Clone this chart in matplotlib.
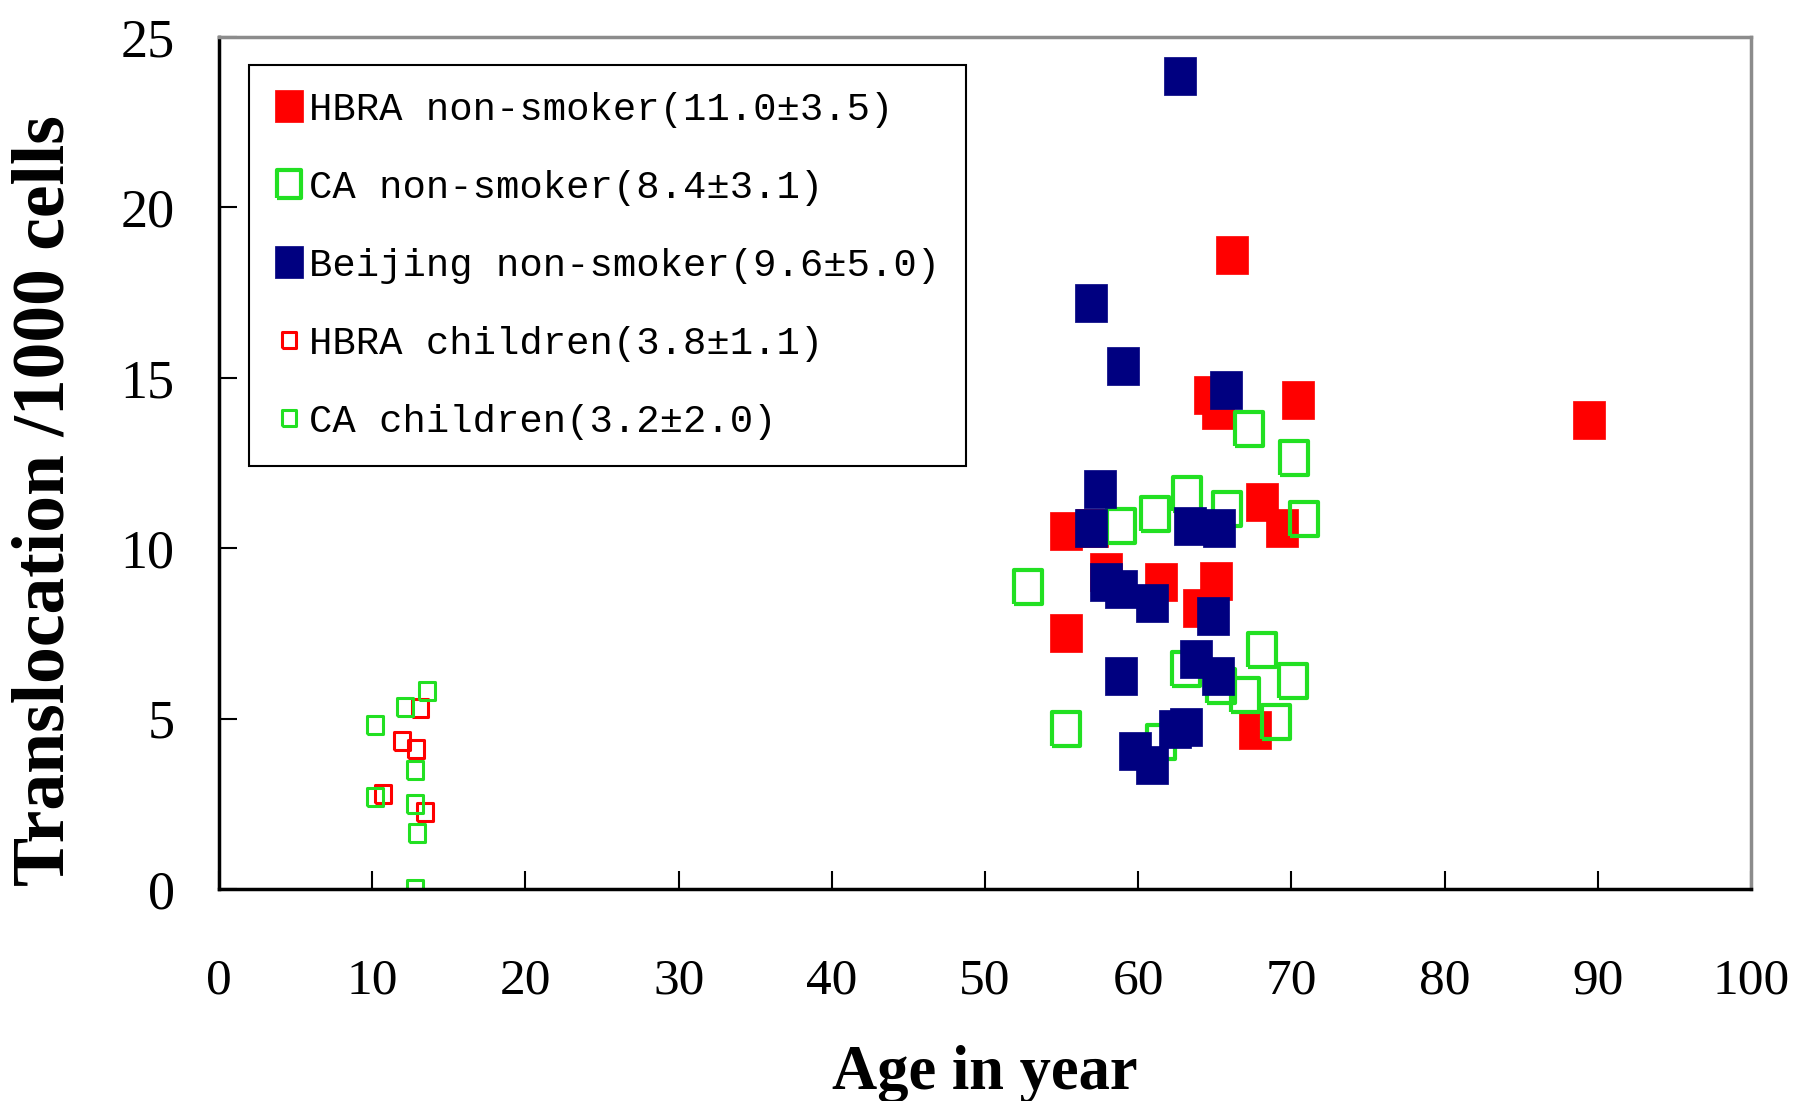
import numpy as np
import matplotlib
matplotlib.use('Agg')
import matplotlib.pyplot as plt

# HBRA non-smoker (filled red)
hbra_age = [66.1, 64.7, 65.2, 70.4, 89.4, 68.1, 69.4, 55.3, 57.0, 57.9, 61.5, 65.1, 64.0, 55.3, 67.6]
hbra_val = [18.6, 14.5, 14.05, 14.35, 13.75, 11.35, 10.6, 10.5, 10.6, 9.3, 9.0, 9.05, 8.25, 7.5, 4.65]

# CA non-smoker (open green)
ca_age = [67.2, 70.2, 63.2, 65.8, 61.1, 70.8, 58.9, 52.8, 68.1, 63.1, 70.1, 65.4, 67.0, 69.0, 55.3, 61.5]
ca_val = [13.5, 12.65, 11.6, 11.15, 11.0, 10.85, 10.65, 8.85, 7.0, 6.45, 6.1, 5.95, 5.7, 4.9, 4.7, 4.3]

# Beijing non-smoker (filled navy)
bj_age = [62.7, 56.9, 59.0, 65.7, 57.5, 56.9, 63.4, 65.3, 57.9, 58.9, 60.9, 64.9, 63.8, 58.9, 65.2,
          62.4, 63.1, 59.8, 60.9]
bj_val = [23.85, 17.2, 15.35, 14.65, 11.75, 10.6, 10.65, 10.6, 9.0, 8.8, 8.4, 8.0, 6.75, 6.25, 6.25,
          4.7, 4.75, 4.05, 3.65]

# children
hbra_ch_age = [13.1, 11.93, 12.86, 10.73, 13.45]
hbra_ch_val = [5.3, 4.35, 4.1, 2.8, 2.25]
ca_ch_age = [13.56, 12.14, 10.18, 12.8, 10.18, 12.8, 12.9, 12.8]
ca_ch_val = [5.8, 5.35, 4.8, 3.5, 2.7, 2.5, 1.65, 0.0]

labels = ['HBRA non-smoker(11.0±3.5)', 'CA non-smoker(8.4±3.1)', 'Beijing non-smoker(9.6±5.0)',
          'HBRA children(3.8±1.1)', 'CA children(3.2±2.0)']

RED = '#ff0000'
GREEN = '#22e022'
NAVY = '#000080'

# slightly tall rectangle marker, like the original
w = 0.865
rect = [(-w / 2, -0.5), (w / 2, -0.5), (w / 2, 0.5), (-w / 2, 0.5), (-w / 2, -0.5)]

fig = plt.figure(figsize=(17.97, 11.01), dpi=100)
ax = fig.add_axes([0.1219, 0.1926, 0.8525, 0.7738])

ax.plot(hbra_age, hbra_val, linestyle='none', marker=rect, markersize=27,
        markerfacecolor=RED, markeredgecolor=RED, markeredgewidth=0.5, label=labels[0])
ax.plot(ca_age, ca_val, linestyle='none', marker=rect, markersize=24,
        markerfacecolor='none', markeredgecolor=GREEN, markeredgewidth=3, label=labels[1])
ax.plot(bj_age, bj_val, linestyle='none', marker=rect, markersize=27,
        markerfacecolor=NAVY, markeredgecolor=NAVY, markeredgewidth=0.5, label=labels[2])
ax.plot(hbra_ch_age, hbra_ch_val, linestyle='none', marker=rect, markersize=13,
        markerfacecolor='none', markeredgecolor=RED, markeredgewidth=2.2, label=labels[3])
ax.plot(ca_ch_age, ca_ch_val, linestyle='none', marker=rect, markersize=13,
        markerfacecolor='none', markeredgecolor=GREEN, markeredgewidth=2.2, label=labels[4])

ax.set_xlim(0, 100)
ax.set_ylim(0, 25)
ax.set_xticks(np.arange(0, 101, 10))
ax.set_yticks(np.arange(0, 26, 5))
ax.tick_params(axis='both', direction='in', length=13, width=1.5, top=False, right=False)
ax.tick_params(axis='x', pad=50, labelsize=37)
ax.tick_params(axis='y', pad=32, labelsize=39)
for lab in ax.get_xticklabels() + ax.get_yticklabels():
    lab.set_family('Liberation Serif')

for side in ['left', 'bottom']:
    ax.spines[side].set_color('black')
    ax.spines[side].set_linewidth(2.5)
for side in ['top', 'right']:
    ax.spines[side].set_color('#8c8c8c')
    ax.spines[side].set_linewidth(2.5)

leg = ax.legend(loc='upper left', bbox_to_anchor=(0.0196, 0.967), borderaxespad=0,
                prop={'family': 'Liberation Mono', 'size': 28}, handlelength=0.7,
                handletextpad=0.15, labelspacing=1.08, borderpad=0.68, markerscale=0.85,
                fancybox=False, framealpha=1, edgecolor='black')
leg.get_frame().set_linewidth(1.5)

fig.text(46 / 1797, 1 - 501 / 1101, 'Translocation /1000 cells', rotation=90, ha='center',
         va='center', family='Liberation Serif', fontweight='bold', fontsize=53)
fig.text(985 / 1797, 1 - 1089 / 1101, 'Age in year', ha='center', va='baseline',
         family='Liberation Serif', fontweight='bold', fontsize=45)

fig.savefig('out.png', dpi=100, facecolor='white')
